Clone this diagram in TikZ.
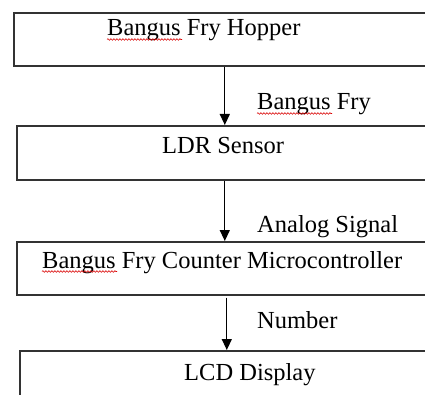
\documentclass[tikz,border=0pt]{standalone}
\usepackage{fontspec}
\setmainfont{Liberation Serif}
\usetikzlibrary{arrows.meta,decorations.pathmorphing}
\begin{document}
\begin{tikzpicture}[x=1pt,y=-1pt,
  blockbox/.style={draw=black!80,line width=1.6pt,rectangle,inner sep=0pt,anchor=north west},
  boxtext/.style={font=\fontsize{24.5}{28}\selectfont,anchor=base west,inner sep=0pt},
  flow/.style={-{Triangle[width=10pt,length=11pt]},line width=1.3pt},
  spell/.style={red!85!black,line width=0.6pt,decorate,
    decoration={snake,amplitude=0.8pt,segment length=3pt}}]
\useasboundingbox (0,0) rectangle (425,395);
\clip (0,0) rectangle (425,395);

% blocks (they run past the right and bottom edges)
\node[blockbox,minimum width=422pt,minimum height=53pt] (hopper) at (13,12) {};
\node[blockbox,minimum width=416pt,minimum height=54pt] (ldr) at (16,125) {};
\node[blockbox,minimum width=420pt,minimum height=53pt] (mcu) at (16,241) {};
\node[blockbox,minimum width=414pt,minimum height=70pt] (lcd) at (19,350) {};

% block titles
\node[boxtext] (thopper) at (107,36) {Bangus Fry Hopper};
\node[boxtext] (tldr) at (162,154) {LDR Sensor};
\node[boxtext] (tmcu) at (42,268) {Bangus Fry Counter Microcontroller};
\node[boxtext] (tlcd) at (184,380) {LCD Display};

% flow arrows (kept vertical)
\draw[flow] (hopper.south) -- (hopper.south |- ldr.north);
\draw[flow] (ldr.south) -- (ldr.south |- mcu.north);
\draw[flow,shorten <=2pt] (mcu.south) -- (mcu.south |- lcd.north);

% arrow labels
\node[boxtext] (lfry) at (257,110) {Bangus Fry};
\node[boxtext] (lsig) at (257,233) {Analog Signal};
\node[boxtext] (lnum) at (257,328) {Number};

% spell-check underlines
\draw[spell] ([yshift=-3.5pt]thopper.base west) -- ++(75,0);
\draw[spell] ([yshift=-3.5pt]lfry.base west) -- ++(75,0);
\draw[spell] ([yshift=-3.5pt]tmcu.base west) -- ++(75,0);
\end{tikzpicture}
\end{document}
